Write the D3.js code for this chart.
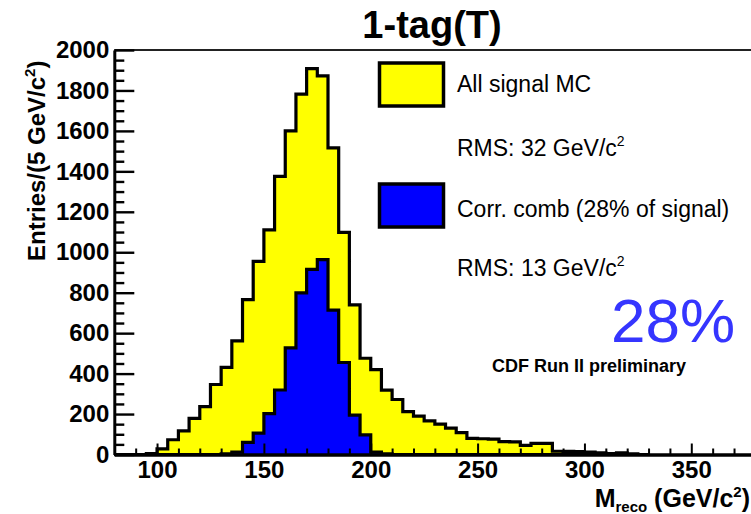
<!DOCTYPE html>
<html>
<head>
<meta charset="utf-8">
<script src="https://cdn.jsdelivr.net/npm/d3@7/dist/d3.min.js"></script>
<style>
  html, body { margin: 0; padding: 0; background: #fff; }
  svg { display: block; }
  text { font-family: "Liberation Sans", Arial, Helvetica, sans-serif; fill: #000; }
</style>
</head>
<body>
<svg id="chart" width="751" height="514"></svg>
<script>
// Lower edges of the 5 GeV/c^2 mass bins
const binLowEdges = [80, 85, 90, 95, 100, 105, 110, 115, 120, 125, 130, 135, 140, 145, 150,
  155, 160, 165, 170, 175, 180, 185, 190, 195, 200, 205, 210, 215, 220, 225, 230, 235, 240,
  245, 250, 255, 260, 265, 270, 275, 280, 285, 290, 295, 300, 305, 310, 315, 320, 325];
const binWidth = 5;

// Entries per bin: all signal MC
const allSignal = [0, 0, 0, 4, 28, 73, 117, 179, 237, 346, 431, 562, 766, 955, 1111,
  1375, 1600, 1782, 1908, 1872, 1516, 1098, 740, 476, 420, 318, 272, 212, 190, 166, 150, 130, 108,
  80, 78, 76, 64, 62, 45, 55, 55, 16, 15, 14, 12, 8, 5, 8, 3, 0];

// Entries per bin: correct jet-parton combination
const corrComb = [0, 0, 0, 0, 0, 0, 0, 0, 0, 0, 3, 12, 60, 106, 202,
  319, 527, 799, 915, 964, 714, 455, 195, 97, 12, 3, 0, 0, 0, 0, 0, 0, 0,
  0, 0, 0, 0, 0, 0, 0, 0, 0, 0, 0, 0, 0, 0, 0, 0, 0];

const xMajorTicks = [100, 150, 200, 250, 300, 350];
const yMajorTicks = [0, 200, 400, 600, 800, 1000, 1200, 1400, 1600, 1800, 2000];

const titleText = "1-tag(T)";
const legendEntries = [
  { label: "All signal MC", rms: "RMS: 32 GeV/c", fill: "#ffff00" },
  { label: "Corr. comb (28% of signal)", rms: "RMS: 13 GeV/c", fill: "#0000ff" }
];
const fractionText = "28%";
const statusText = "CDF Run II preliminary";

const svg = d3.select("#chart");

const x = d3.scaleLinear().domain([80, 380]).range([114.3, 755.4]);
const y = d3.scaleLinear().domain([0, 2000]).range([454.5, 50]);

// Step outline of a histogram as a closed polygon down to zero
function histPoints(values) {
  const pts = [[binLowEdges[0], 0]];
  values.forEach((v, i) => {
    pts.push([binLowEdges[i], v]);
    pts.push([binLowEdges[i] + binWidth, v]);
  });
  pts.push([binLowEdges[binLowEdges.length - 1] + binWidth, 0]);
  return pts;
}
const histLine = d3.line().x(d => x(d[0])).y(d => y(d[1]));

function drawHist(values, fill) {
  const pts = histPoints(values);
  svg.append("path")
    .attr("d", histLine(pts) + "Z")
    .attr("fill", fill)
    .attr("stroke", "none");
  svg.append("path")
    .attr("d", histLine(pts))
    .attr("fill", "none")
    .attr("stroke", "#000")
    .attr("stroke-width", 3.2)
    .attr("stroke-linejoin", "miter");
}

drawHist(allSignal, "#ffff00");
drawHist(corrComb, "#0000ff");

// Frame top edge
svg.append("line")
  .attr("x1", x(80)).attr("x2", 751)
  .attr("y1", y(2000)).attr("y2", y(2000))
  .attr("stroke", "#222").attr("stroke-width", 2);

// Y axis: major ticks with labels, minor ticks every 50
const yMinor = d3.range(0, 2001, 50).filter(v => v % 200 !== 0);
svg.append("g")
  .attr("transform", `translate(${x(80)},0)`)
  .call(d3.axisLeft(y).tickValues(yMinor).tickSize(-10).tickFormat(""))
  .call(g => g.select(".domain").remove())
  .call(g => g.selectAll("line").attr("stroke", "#000").attr("stroke-width", 2.4));
const yAxis = svg.append("g")
  .attr("transform", `translate(${x(80)},0)`)
  .call(d3.axisLeft(y).tickValues(yMajorTicks).tickSize(-20).tickSizeOuter(0).tickPadding(5).tickFormat(d3.format("d")));
yAxis.select(".domain").attr("stroke", "#000").attr("stroke-width", 3);
yAxis.selectAll(".tick line").attr("stroke", "#000").attr("stroke-width", 2.4);
yAxis.selectAll(".tick text")
  .attr("font-size", 24).attr("font-weight", "bold")
  .attr("font-family", "Liberation Sans, Arial, sans-serif").attr("fill", "#000");

// X axis: major ticks every 50, minor every 10
const xMinor = d3.range(90, 380, 10).filter(v => v % 50 !== 0);
svg.append("g")
  .attr("transform", `translate(0,${y(0)})`)
  .call(d3.axisBottom(x).tickValues(xMinor).tickSize(-6).tickFormat(""))
  .call(g => g.select(".domain").remove())
  .call(g => g.selectAll("line").attr("stroke", "#000").attr("stroke-width", 2));
const xAxis = svg.append("g")
  .attr("transform", `translate(0,${y(0)})`)
  .call(d3.axisBottom(x).tickValues(xMajorTicks).tickSize(-11).tickSizeOuter(0).tickPadding(6).tickFormat(d3.format("d")));
xAxis.select(".domain").attr("stroke", "#000").attr("stroke-width", 3.5);
xAxis.selectAll(".tick line").attr("stroke", "#000").attr("stroke-width", 2);
xAxis.selectAll(".tick text")
  .attr("font-size", 24).attr("font-weight", "bold")
  .attr("font-family", "Liberation Sans, Arial, sans-serif").attr("fill", "#000");

// Title
svg.append("text")
  .attr("x", 432).attr("y", 38)
  .attr("text-anchor", "middle")
  .attr("font-size", 38).attr("font-weight", "bold")
  .text(titleText);

// Y axis title
const yTitle = svg.append("text")
  .attr("transform", "translate(45,261) rotate(-90)")
  .attr("font-size", 24).attr("font-weight", "bold");
yTitle.append("tspan").text("Entries/(5 GeV/c");
yTitle.append("tspan").attr("font-size", 15).attr("dy", -10).text("2");
yTitle.append("tspan").attr("dy", 10).text(")");

// X axis title
const xTitle = svg.append("text")
  .attr("x", 750).attr("y", 507)
  .attr("text-anchor", "end")
  .attr("font-size", 25).attr("font-weight", "bold");
xTitle.append("tspan").text("M");
xTitle.append("tspan").attr("font-size", 15).attr("dy", 5).text("reco");
xTitle.append("tspan").attr("dy", -5).text(" (GeV/c");
xTitle.append("tspan").attr("font-size", 15).attr("dy", -10).text("2");
xTitle.append("tspan").attr("dy", 10).text(")");

// Legend
const legendRows = [
  { boxTop: 63, labelY: 92, rmsY: 156 },
  { boxTop: 184, labelY: 217, rmsY: 276 }
];
legendEntries.forEach((e, i) => {
  const r = legendRows[i];
  svg.append("rect")
    .attr("x", 379.5).attr("y", r.boxTop)
    .attr("width", 64).attr("height", 43)
    .attr("fill", e.fill).attr("stroke", "#000").attr("stroke-width", 3.5);
  svg.append("text")
    .attr("x", 457).attr("y", r.labelY)
    .attr("font-size", 23)
    .text(e.label);
  const t = svg.append("text")
    .attr("x", 457).attr("y", r.rmsY)
    .attr("font-size", 23);
  t.append("tspan").text(e.rms);
  t.append("tspan").attr("font-size", 14).attr("dy", -10).text("2");
});

// Fraction of correct combinations
svg.append("text")
  .attr("x", 611).attr("y", 342)
  .attr("font-size", 62)
  .style("fill", "#3535ff")
  .text(fractionText);

svg.append("text")
  .attr("x", 492).attr("y", 372)
  .attr("font-size", 18).attr("font-weight", "bold")
  .text(statusText);
</script>
</body>
</html>
